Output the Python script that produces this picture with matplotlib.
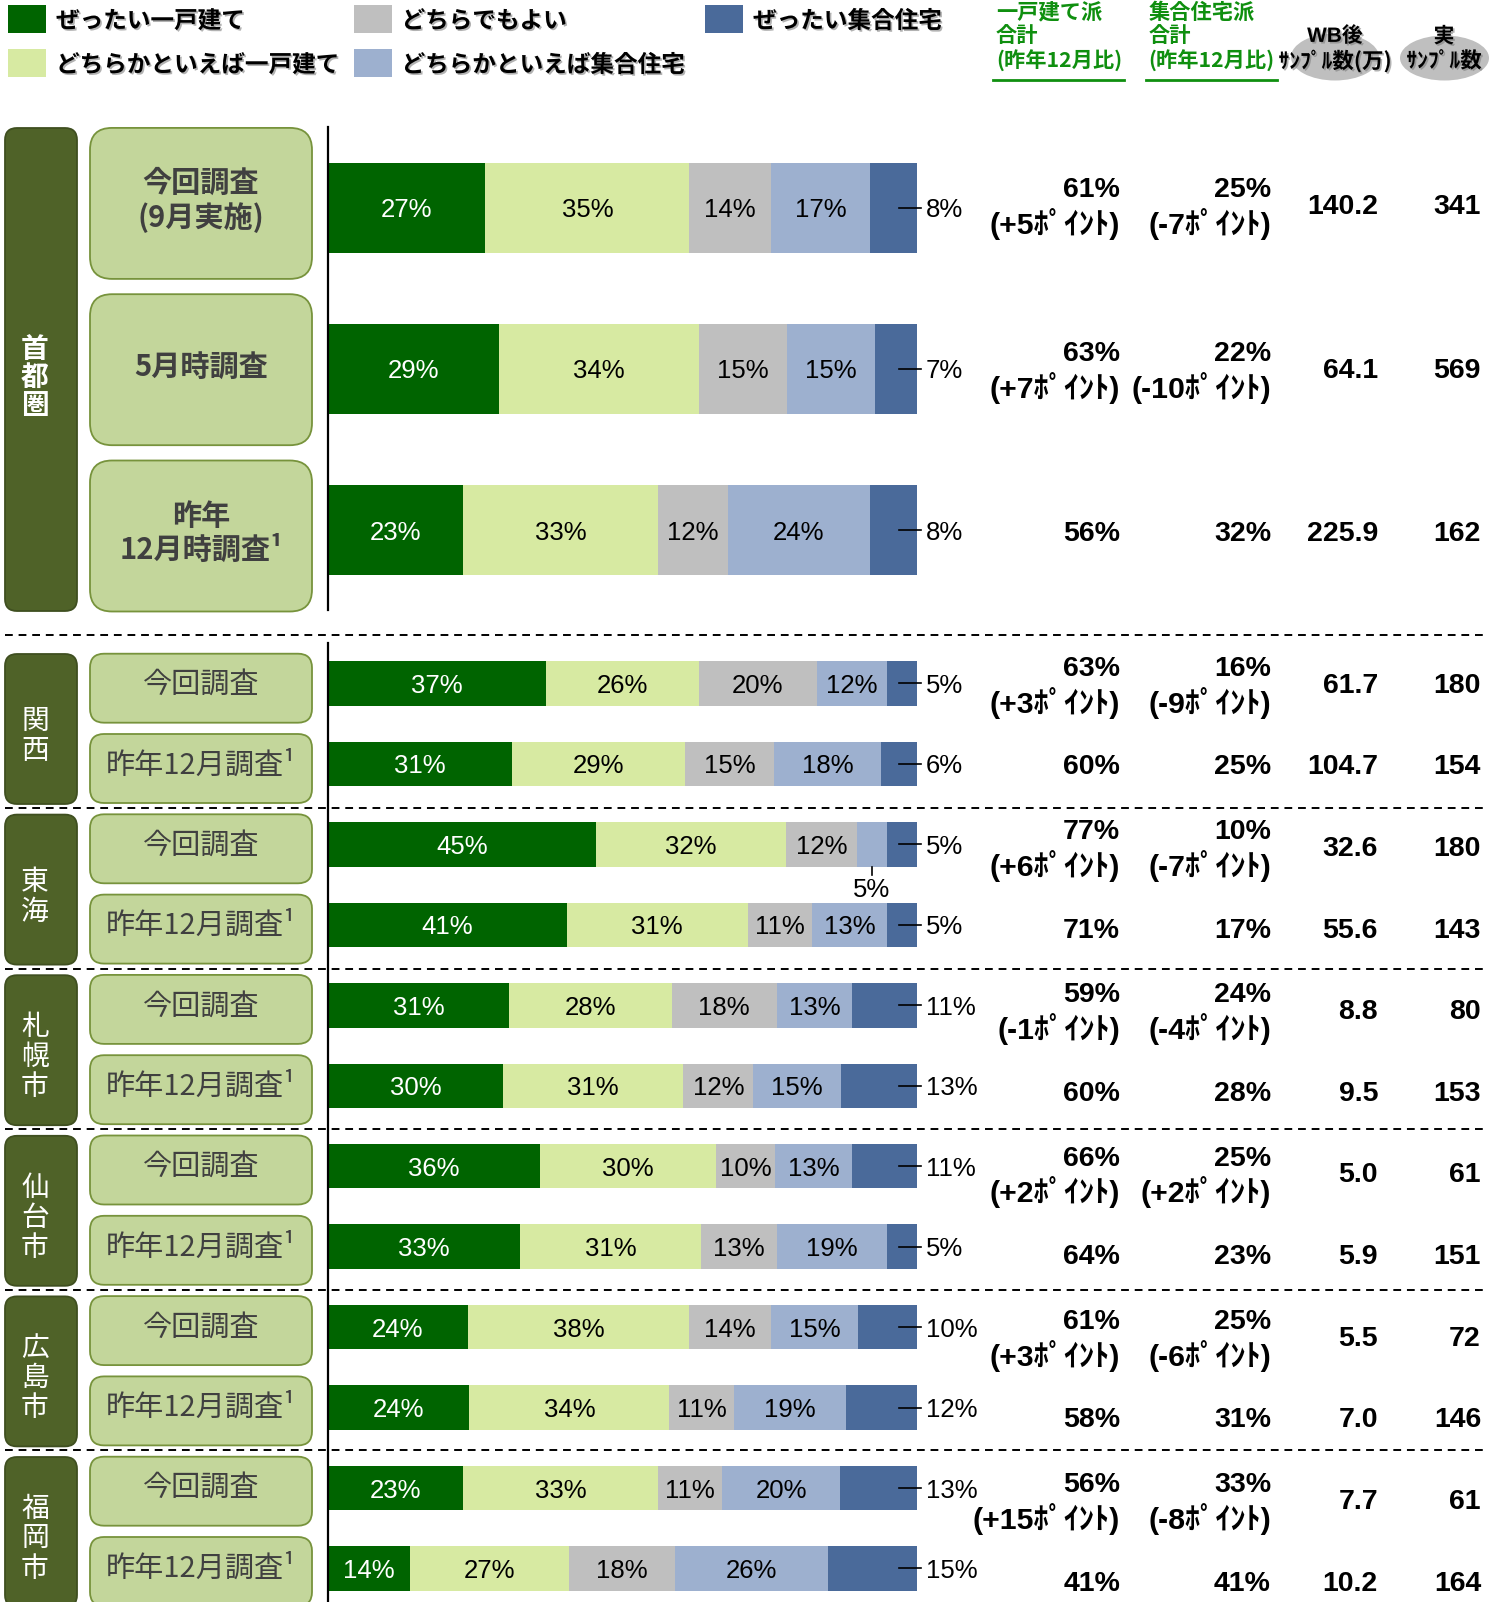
import matplotlib
matplotlib.use("Agg")
import matplotlib.pyplot as plt
import matplotlib.patheffects as pe
from matplotlib.patches import FancyBboxPatch, Ellipse, Rectangle
import numpy as np

JP = ['Noto Sans CJK JP', 'DejaVu Sans']
NUM = ['Liberation Sans', 'Noto Sans CJK JP', 'DejaVu Sans']
plt.rcParams['font.family'] = NUM

# --- data ---
categories = ["ぜったい一戸建て", "どちらかといえば一戸建て", "どちらでもよい",
              "どちらかといえば集合住宅", "ぜったい集合住宅"]
colors = ['#006400', '#D7EAA2', '#BFBFBF', '#9DB0CF', '#4A6A9A']

regions = ["首都圏", "関西", "東海", "札幌市", "仙台市", "広島市", "福岡市"]
top_surveys = ["今回調査\n(9月実施)", "5月時調査", "昨年\n12月時調査¹"]
bottom_surveys = ["今回調査", "昨年12月調査¹"]

# rows: 首都圏 x3, then (今回, 昨年12月) for each of the other regions
zettai_kodate = [27, 29, 23, 37, 31, 45, 41, 31, 30, 36, 33, 24, 24, 23, 14]
dochira_kodate = [35, 34, 33, 26, 29, 32, 31, 28, 31, 30, 31, 38, 34, 33, 27]
dochirademo = [14, 15, 12, 20, 15, 12, 11, 18, 12, 10, 13, 14, 11, 11, 18]
dochira_shugo = [17, 15, 24, 12, 18, 5, 13, 13, 15, 13, 19, 15, 19, 20, 26]
zettai_shugo = [8, 7, 8, 5, 6, 5, 5, 11, 13, 11, 5, 10, 12, 13, 15]

kodate_total = [61, 63, 56, 63, 60, 77, 71, 59, 60, 66, 64, 61, 58, 56, 41]
kodate_diff = ["+5", "+7", "", "+3", "", "+6", "", "-1", "", "+2", "", "+3", "", "+15", ""]
shugo_total = [25, 22, 32, 16, 25, 10, 17, 24, 28, 25, 23, 25, 31, 33, 41]
shugo_diff = ["-7", "-10", "", "-9", "", "-7", "", "-4", "", "+2", "", "-6", "", "-8", ""]
wb_samples = ["140.2", "64.1", "225.9", "61.7", "104.7", "32.6", "55.6", "8.8",
              "9.5", "5.0", "5.9", "5.5", "7.0", "7.7", "10.2"]
raw_samples = [341, 569, 162, 180, 154, 180, 143, 80, 153, 61, 151, 72, 146, 61, 164]

# --- layout ---
W, H = 1498, 1602
fig = plt.figure(figsize=(W / 100, H / 100), dpi=100)
bg = fig.add_axes([0, 0, 1, 1])
bg.set_xlim(0, W)
bg.set_ylim(H, 0)
bg.axis('off')

region_col = '#4F6228'
box_fill = '#C3D69B'
box_edge = '#77933C'
green_txt = '#0F8F0F'
shadow = [pe.SimplePatchShadow(offset=(1.2, -1.2), shadow_rgbFace='#7F7F7F', alpha=0.6), pe.Normal()]


def px_axes(x0, x1, y0, y1):
    return fig.add_axes([x0 / W, 1 - y1 / H, (x1 - x0) / W, (y1 - y0) / H])


bar_x0, bar_x1 = 328, 916.6
top_step, bot_step = 161, 80.45
ax_top = px_axes(bar_x0, bar_x1, 208 - top_step / 2, 530 + top_step / 2)
ax_top.set_ylim(2.5, -0.5)
ax_bot = px_axes(bar_x0, bar_x1, 683.5 - bot_step / 2, H)
ax_bot.set_ylim(-0.5 + (H - 683.5 + bot_step / 2) / bot_step, -0.5)

series = np.array([zettai_kodate, dochira_kodate, dochirademo, dochira_shugo, zettai_shugo], dtype=float)
shares = series / series.sum(axis=0) * 100

for ax, rows in [(ax_top, range(0, 3)), (ax_bot, range(3, 15))]:
    rows = list(rows)
    ypos = np.arange(len(rows))
    left = np.zeros(len(rows))
    for k in range(5):
        w = shares[k, rows]
        ax.barh(ypos, w, left=left, height=0.553, color=colors[k], edgecolor='none')
        for y, l, ww, v in zip(ypos, left, w, series[k, rows]):
            lab = f"{int(v)}%"
            if k == 4:
                ax.plot([97.0, 100.7], [y, y], color='black', lw=1.2, clip_on=False)
                ax.text(101.6, y, lab, ha='left', va='center_baseline', fontsize=18.5)
            elif v <= 5:
                ax.plot([l + ww / 2] * 2, [y + 0.28, y + 0.38], color='black', lw=1.2, clip_on=False)
                ax.text(l + ww / 2, y + 0.54, lab, ha='center', va='center_baseline', fontsize=18.5)
            else:
                ax.text(l + ww / 2, y, lab, ha='center', va='center_baseline', fontsize=18.5,
                        color='white' if k == 0 else 'black')
        left = left + w
    ax.set_xlim(0, 100)
    ax.set_xticks([])
    ax.set_yticks([])
    ax.patch.set_alpha(0)
    for s in ['top', 'right', 'bottom']:
        ax.spines[s].set_visible(False)
    ax.spines['left'].set_linewidth(1.6)

# --- left boxes ---
def rbox(x0, y0, w, h, fc, ec, r):
    bg.add_patch(FancyBboxPatch((x0, y0), w, h, boxstyle=f"round,pad=0,rounding_size={r}",
                                fc=fc, ec=ec, lw=1.3))

rbox(5, 128, 72, 483, region_col, '#3F4F20', 12)
bg.text(35, 378, "\n".join(regions[0]), ha='center', va='center', color='white',
        fontsize=20, fontweight='bold', family=JP, linespacing=1.0)
for i, lab in enumerate(top_surveys):
    yc = 203.4 + 166.3 * i
    rbox(90, yc - 75.5, 222, 151, box_fill, box_edge, 22)
    bg.text(201, yc - 3, lab, ha='center', va='center', color='#404040', fontsize=21,
            fontweight='bold', family=JP, linespacing=1.15)

for r, reg in enumerate(regions[1:]):
    top = 654 + 160.6 * r
    rbox(5, top, 72, 150, region_col, '#3F4F20', 12)
    bg.text(35, top + 82, "\n".join(reg), ha='center', va='center', color='white',
            fontsize=20, family=JP, linespacing=1.0)
    for j, lab in enumerate(bottom_surveys):
        yc = 688.2 + 80.3 * (2 * r + j)
        rbox(90, yc - 34.5, 222, 69, box_fill, box_edge, 14)
        bg.text(201, yc - 3, lab, ha='center', va='center', color='#404040', fontsize=21, family=JP)

# dashed separators
for y in [634.5, 808, 968.6, 1129, 1289.6, 1450]:
    bg.plot([5, 1487], [y, y], color='black', lw=1.4, dashes=(4, 3))

# --- legend ---
for i, (cat, c) in enumerate(zip(categories, colors)):
    col, row = divmod(i, 2)
    x = [8, 353.5, 705][col]
    y = [5, 49][row]
    bg.add_patch(Rectangle((x, y), 38, 28, fc=c, ec='none'))
    bg.text(x + 48, y + 16, cat, ha='left', va='center', fontsize=17, fontweight='bold',
            family=JP, path_effects=shadow)

# --- table header ---
for x0, head in [(996, "一戸建て派"), (1148.5, "集合住宅派")]:
    for y, t in zip([12.3, 35.8, 61.3], [head, "合計", "(昨年12月比)"]):
        bg.text(x0, y, t, ha='left', va='center', color=green_txt, fontsize=15.3,
                fontweight='bold', family=JP)
    bg.plot([x0 - 3, x0 + 128], [80, 80], color=green_txt, lw=2)

bg.add_patch(Ellipse((1335, 57), 88, 47, fc='#BFBFBF', ec='none'))
bg.add_patch(Ellipse((1444.5, 58), 89, 45, fc='#BFBFBF', ec='none'))
bg.text(1335, 36, "WB後", ha='center', va='center', fontsize=15, fontweight='bold', path_effects=shadow)
bg.text(1335, 61, "ｻﾝﾌﾟﾙ数(万)", ha='center', va='center', fontsize=15.5, fontweight='bold',
        family=JP, path_effects=shadow)
bg.text(1444, 36, "実", ha='center', va='center', fontsize=15, fontweight='bold', family=JP,
        path_effects=shadow)
bg.text(1444, 61, "ｻﾝﾌﾟﾙ数", ha='center', va='center', fontsize=15.5, fontweight='bold',
        family=JP, path_effects=shadow)

# --- table values ---
table_y = [204.4, 367.9, 531.3] + [682.6 + 81.65 * j for j in range(12)]
tkw = dict(ha='right', va='center_baseline', fontsize=20.5, fontweight='bold')
for i, yc in enumerate(table_y):
    for cx, tot, diff in [(1120, kodate_total[i], kodate_diff[i]), (1271, shugo_total[i], shugo_diff[i])]:
        if diff:
            bg.text(cx, yc - 17, f"{tot}%", **tkw)
            bg.text(cx, yc + 17, f"({diff}ﾎﾟｲﾝﾄ)", **{**tkw, 'fontsize': 21.8})
        else:
            bg.text(cx, yc, f"{tot}%", **tkw)
    bg.text(1378, yc, wb_samples[i], **tkw)
    bg.text(1481, yc, str(raw_samples[i]), **tkw)

fig.savefig("out.png", dpi=100)
